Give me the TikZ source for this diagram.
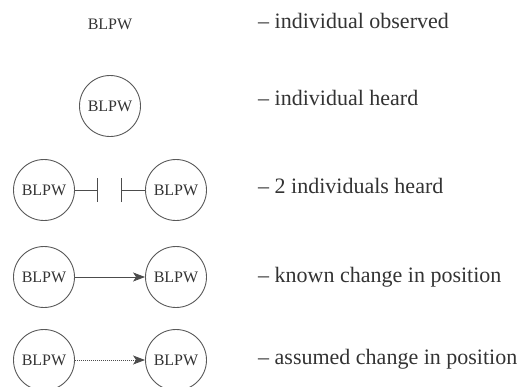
\documentclass[tikz,border=0pt]{standalone}
\usepackage{fontspec}
\setmainfont{Liberation Serif}
\usetikzlibrary{arrows.meta}
\begin{document}
\begin{tikzpicture}[x=1pt,y=-1pt,
  ind/.style={circle,draw=black!65,line width=0.9pt,minimum size=61pt,inner sep=0pt,font=\fontsize{16}{18}\selectfont,text=black!80},
  tag/.style={font=\fontsize{16}{18}\selectfont,text=black!80,inner sep=0pt},
  lab/.style={anchor=base west,font=\fontsize{22}{26}\selectfont,text=black!80,inner sep=0pt},
  conn/.style={draw=black!70,line width=0.8pt},
  tip/.style={-{Stealth[length=12pt,width=9pt,inset=3pt]}}]
\useasboundingbox (0,0) rectangle (522,386);
% row 1
\node[tag] (o1) at (110,24) {BLPW};
\node[lab] (l1) at (258,28) {-- individual observed};
% row 2
\node[ind] (h2) at (110,106) {BLPW};
\node[lab] (l2) at (258,105) {-- individual heard};
% row 3
\node[ind] (a3) at (44,190) {BLPW};
\node[ind] (b3) at (176,190) {BLPW};
\coordinate (t1) at (98,190);
\coordinate (t2) at (121,190);
\draw[conn,-{Bar[width=24pt]}] (a3) -- (t1);
\draw[conn,-{Bar[width=24pt]}] (b3) -- (t2);
\node[lab] (l3) at (258,193) {-- 2 individuals heard};
% row 4
\node[ind] (a4) at (44,277) {BLPW};
\node[ind] (b4) at (176,277) {BLPW};
\draw[conn,tip] (a4) -- (b4);
\node[lab] (l4) at (258,282) {-- known change in position};
% row 5
\node[ind] (a5) at (44,360) {BLPW};
\node[ind] (b5) at (176,360) {BLPW};
\draw[conn,dash pattern=on 1pt off 1pt,tip] (a5) -- (b5);
\node[lab] (l5) at (258,364) {-- assumed change in position};
\end{tikzpicture}
\end{document}
